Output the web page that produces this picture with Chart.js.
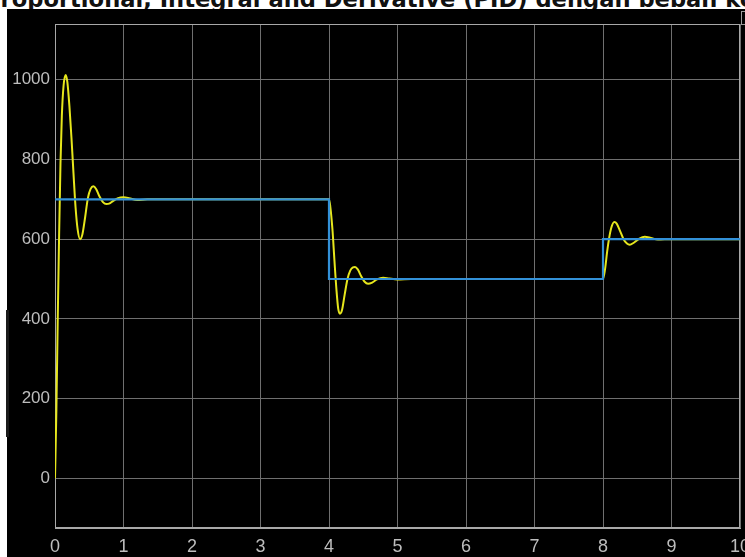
<!DOCTYPE html>
<html>
<head>
<meta charset="utf-8">
<script src="https://cdn.jsdelivr.net/npm/chart.js@4.4.1/dist/chart.umd.min.js"></script>
<style>
  html, body { margin: 0; padding: 0; background: #fff; }
  #wrap { position: relative; width: 745px; height: 557px; overflow: hidden; background: #fff; }
  #title {
    position: absolute; left: -16px; top: -12px;
    font: bold 22.6px "DejaVu Sans", sans-serif; line-height: 22px;
    color: #111; white-space: nowrap;
  }
  #panel { position: absolute; left: 7px; top: 9px; width: 738px; height: 548px; background: #000; }
  #edge { position: absolute; left: 6px; top: 310px; width: 3px; height: 127px; background: #1a1a1a; }
  #icon { position: absolute; left: 741px; top: 11px; width: 8px; height: 12px; border: 1px solid #9a9a9a; }
  canvas { display: block; }
</style>
</head>
<body>
<div id="wrap">
  <div id="title">Proportional, Integral and Derivative (PID) dengan beban konstan</div>
  <div id="panel"><canvas id="scope" width="738" height="548"></canvas></div>
  <div id="edge"></div>
  <div id="icon"></div>
</div>
<script>
// axis ticks
const xTicks = [0, 1, 2, 3, 4, 5, 6, 7, 8, 9, 10];
const yTicks = [0, 200, 400, 600, 800, 1000];

// reference (setpoint) - blue
const setpointTime = [0, 4, 8, 10];
const setpointValue = [700, 500, 600, 600];

// PID response - yellow
const responseTime = [
  0, 0.02, 0.04, 0.06, 0.08, 0.1, 0.125, 0.156, 0.18, 0.21, 0.24, 0.27, 0.3, 0.33, 0.365,
  0.4, 0.44, 0.48, 0.52, 0.56, 0.6, 0.65, 0.7, 0.75, 0.79, 0.85, 0.92, 1.0, 1.08, 1.2, 1.35,
  4.0, 4.02, 4.05, 4.08, 4.11, 4.135, 4.16, 4.19, 4.23, 4.27, 4.31, 4.35, 4.38, 4.42, 4.47,
  4.52, 4.57, 4.63, 4.7, 4.79, 4.88, 5.0, 5.2,
  8.0, 8.03, 8.06, 8.09, 8.12, 8.165, 8.2, 8.25, 8.3, 8.35, 8.39, 8.45, 8.52, 8.61, 8.7, 8.8, 9.0, 10
];
const responseValue = [
  0, 170, 400, 610, 790, 910, 985, 1012, 995, 935, 855, 765, 680, 625, 600,
  612, 655, 703, 726, 733, 726, 707, 693, 688, 689, 696, 703, 705, 703, 698, 700,
  700, 680, 625, 545, 470, 425, 413, 422, 462, 500, 521, 529, 530, 524, 507,
  493, 488, 491, 499, 503, 501, 499, 500,
  500, 525, 568, 603, 628, 643, 639, 620, 600, 589, 586, 591, 600, 606, 603, 599, 600, 600
];

const gridColor = '#6f6f6f';
const axisColor = '#a8a8a8';
const labelColor = '#bdbdbd';

const boxPlugin = {
  id: 'box',
  beforeDatasetsDraw(chart) {
    const a = chart.chartArea;
    const c = chart.ctx;
    c.save();
    c.strokeStyle = axisColor;
    c.lineWidth = 1;
    c.strokeRect(a.left + 0.5, a.top + 0.5, a.right - a.left - 1, a.bottom - a.top - 1);
    c.restore();
  }
};

new Chart(document.getElementById('scope').getContext('2d'), {
  type: 'line',
  data: {
    datasets: [
      {
        label: 'Setpoint',
        data: setpointTime.map((t, i) => ({ x: t, y: setpointValue[i] })),
        borderColor: '#3391d8',
        borderWidth: 2.2,
        stepped: 'before',
        pointRadius: 0
      },
      {
        label: 'Respon PID',
        data: responseTime.map((t, i) => ({ x: t, y: responseValue[i] })),
        borderColor: '#e6e61c',
        borderWidth: 2,
        cubicInterpolationMode: 'monotone',
        pointRadius: 0
      }
    ]
  },
  options: {
    responsive: false,
    animation: false,
    layout: { padding: { top: 15, right: 5, left: 0, bottom: 0 } },
    plugins: {
      legend: { display: false },
      tooltip: { enabled: false }
    },
    scales: {
      x: {
        type: 'linear',
        min: 0,
        max: 10,
        afterBuildTicks: s => { s.ticks = xTicks.map(v => ({ value: v })); },
        afterFit: s => { s.height = 29; s.paddingLeft = 0; s.paddingRight = 0; },
        grid: { color: gridColor, lineWidth: 1, drawTicks: false },
        border: { color: axisColor, width: 1 },
        ticks: {
          color: labelColor,
          padding: 8,
          maxRotation: 0,
          autoSkip: false,
          callback: v => String(v),
          font: { family: '"Liberation Sans", Arial, sans-serif', size: 18 }
        }
      },
      y: {
        type: 'linear',
        min: -125,
        max: 1140,
        afterBuildTicks: s => { s.ticks = yTicks.map(v => ({ value: v })); },
        afterFit: s => { s.width = 48; s.paddingTop = 0; s.paddingBottom = 0; },
        grid: { color: gridColor, lineWidth: 1, drawTicks: false },
        border: { color: axisColor, width: 1 },
        ticks: {
          color: labelColor,
          padding: 5,
          autoSkip: false,
          callback: v => String(v),
          font: { family: '"Liberation Sans", Arial, sans-serif', size: 17 }
        }
      }
    }
  },
  plugins: [boxPlugin]
});
</script>
</body>
</html>
